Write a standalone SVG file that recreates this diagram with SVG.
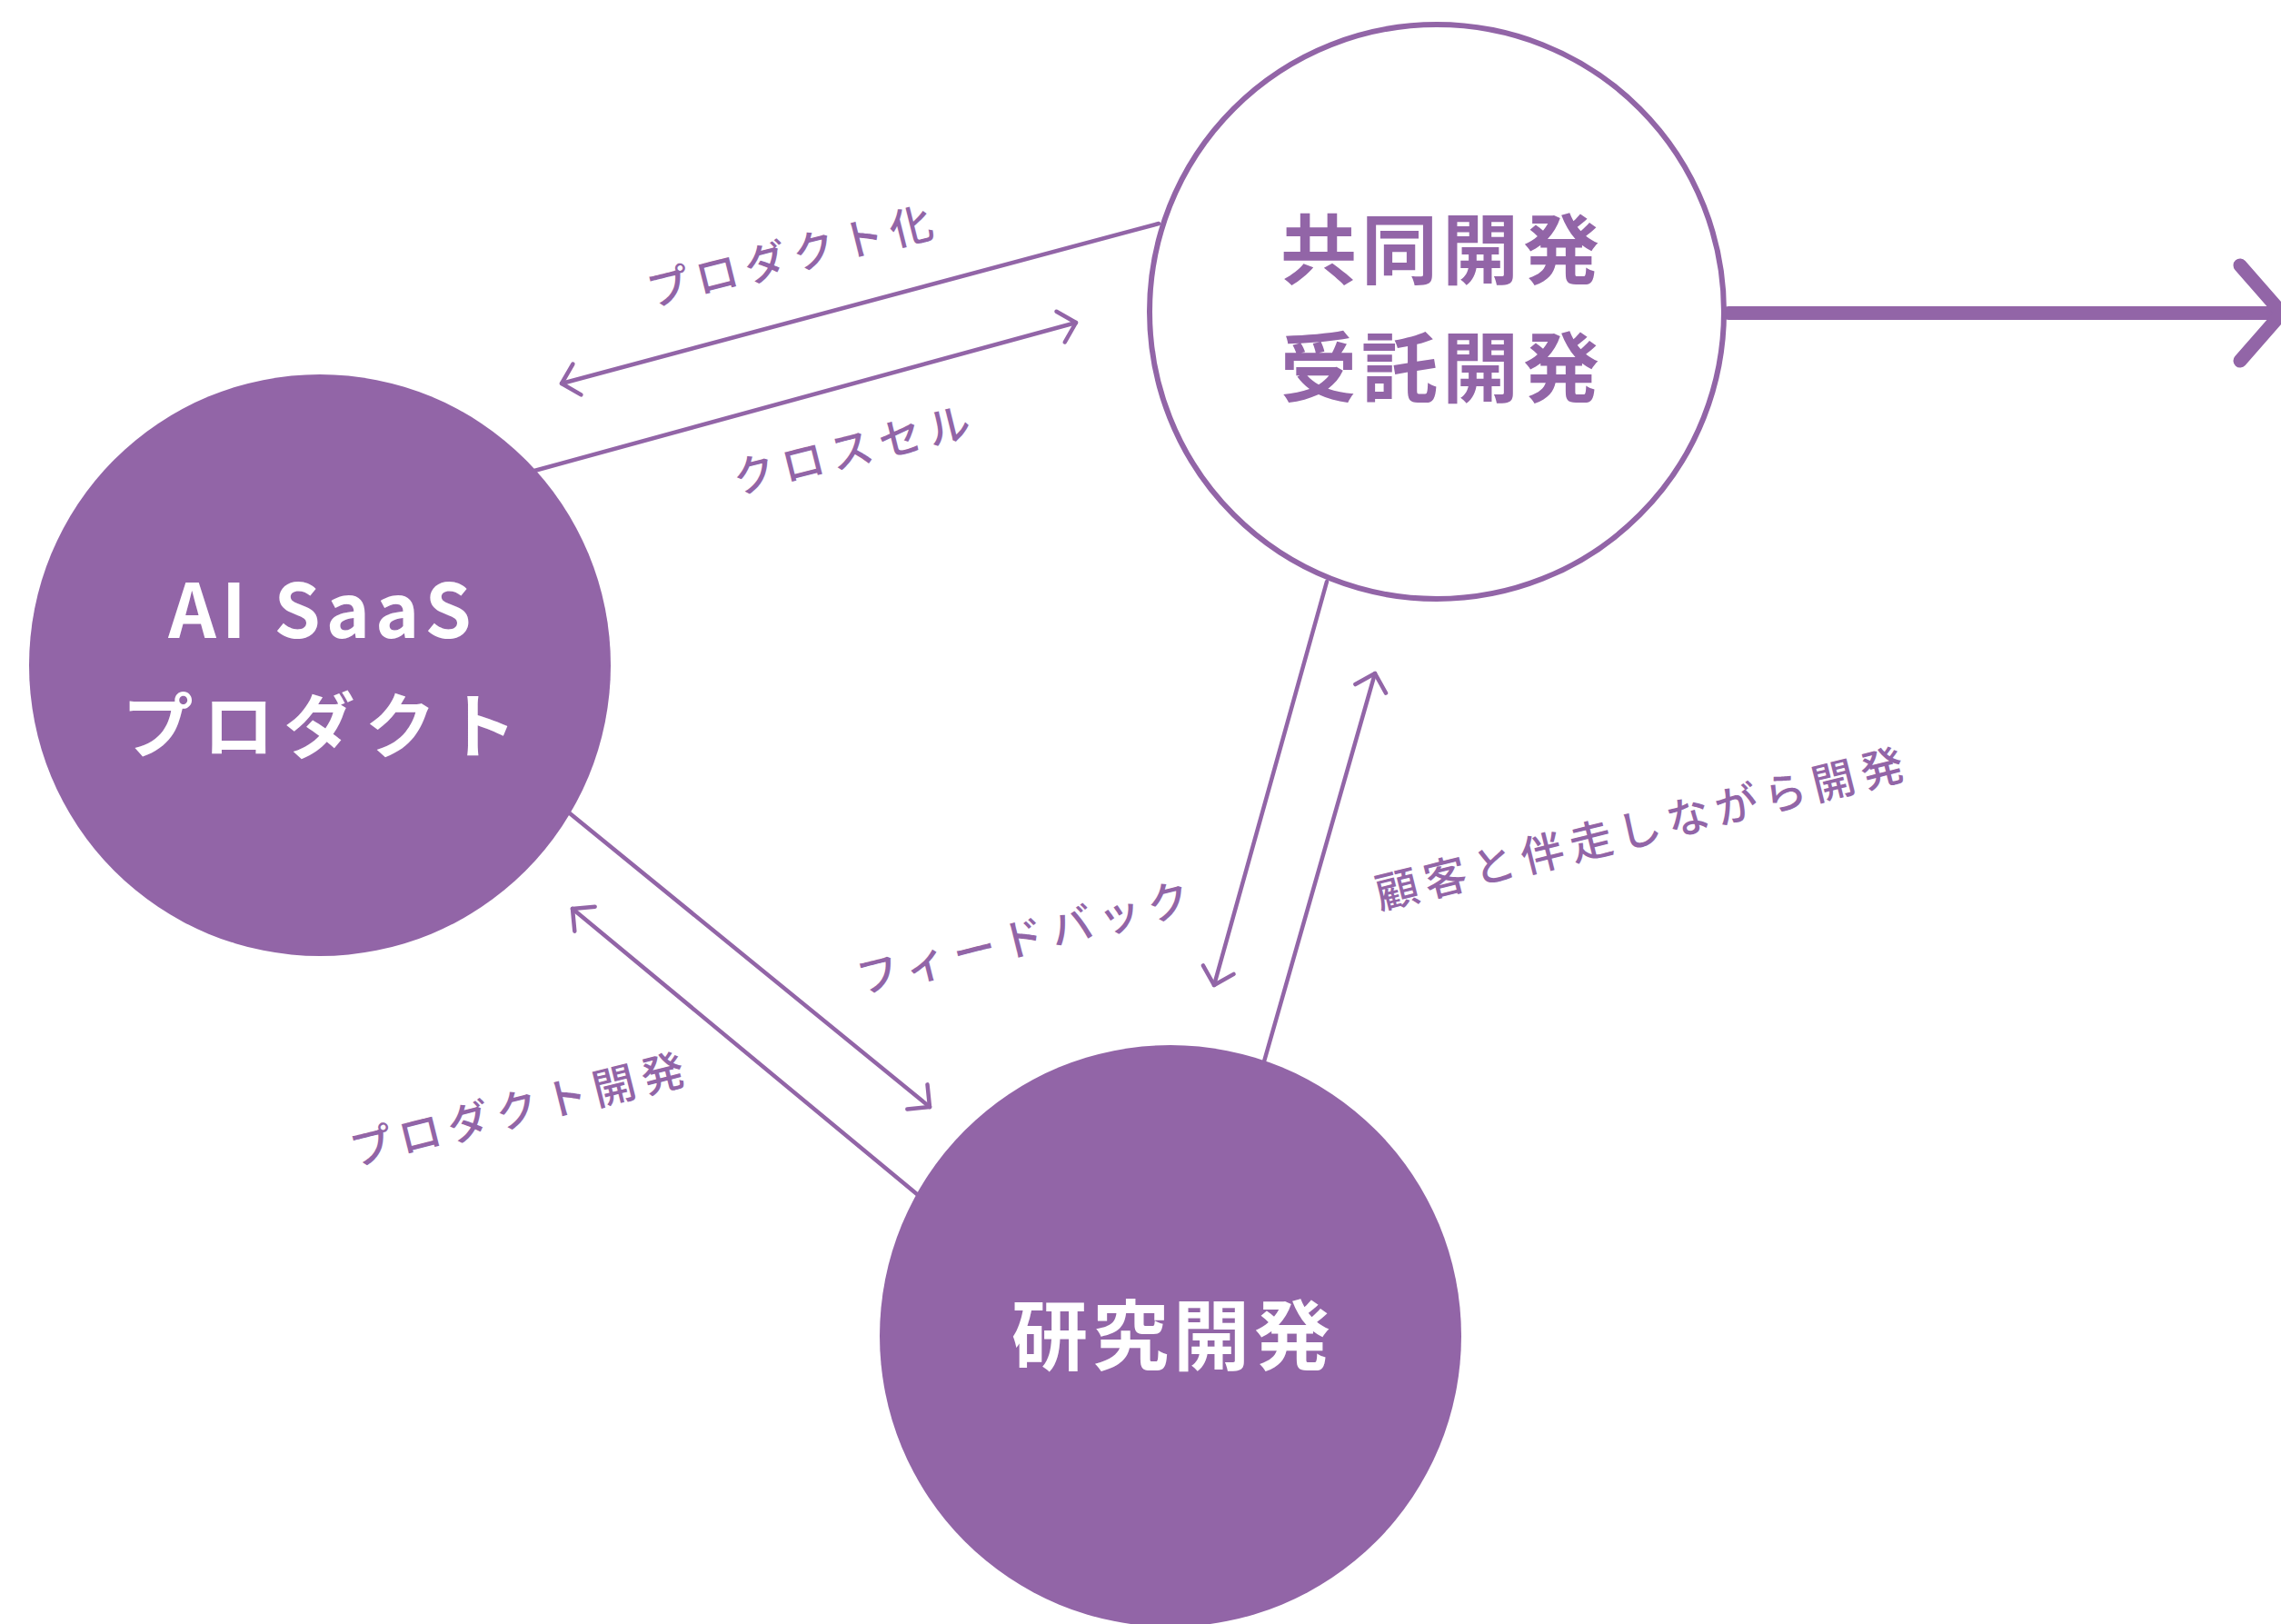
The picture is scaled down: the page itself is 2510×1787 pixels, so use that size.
<svg xmlns="http://www.w3.org/2000/svg" width="2510" height="1787" viewBox="0 0 2510 1787">
  <style>
    .fill { fill: #9265A7; }
    .ring { fill: #FFFFFF; stroke: #9265A7; stroke-width: 6; }
    .conn { stroke: #9265A7; stroke-width: 4.5; fill: none; stroke-linecap: round; }
    .big { stroke: #9265A7; stroke-width: 15; fill: none; stroke-linecap: round; stroke-linejoin: round; }
    .title { font-family: "Noto Sans CJK JP", "Noto Sans", sans-serif; font-weight: 700; text-anchor: middle; }
    .latin { font-family: "Noto Sans CJK JP", "Noto Sans", sans-serif; font-weight: 700; text-anchor: middle; }
    .label { font-family: "Noto Sans CJK JP", "Noto Sans", sans-serif; font-weight: 500; font-size: 47px; letter-spacing: 8px; fill: #9265A7; text-anchor: middle; }
  </style>
  <defs>
    <marker id="arr" markerUnits="userSpaceOnUse" viewBox="-30 -30 60 60" markerWidth="60" markerHeight="60" refX="0" refY="0" orient="auto" overflow="visible">
      <path d="M-17.5,-17.5 L0,0 L-17.5,17.5" fill="none" stroke="#9265A7" stroke-width="4.5" stroke-linecap="round" stroke-linejoin="round"/>
    </marker>
  </defs>
  <rect x="0" y="0" width="2510" height="1787" fill="#FFFFFF"/>

  <g id="connectors">
    <line class="conn" x1="1275" y1="246" x2="618" y2="422" marker-end="url(#arr)"/>
    <line class="conn" x1="588" y1="518" x2="1184" y2="355" marker-end="url(#arr)"/>
    <line class="conn" x1="1460" y1="640" x2="1336" y2="1084" marker-end="url(#arr)"/>
    <line class="conn" x1="1391" y1="1168" x2="1513" y2="741" marker-end="url(#arr)"/>
    <line class="conn" x1="627" y1="895" x2="1023" y2="1218" marker-end="url(#arr)"/>
    <line class="conn" x1="1009" y1="1314" x2="630" y2="1000" marker-end="url(#arr)"/>
    <line class="big" x1="1902" y1="344.5" x2="2508" y2="344.5"/>
    <polyline class="big" points="2465,292 2511,344.5 2465,397"/>
  </g>

  <g id="labels">
    <text class="label" transform="translate(877,298) rotate(-14)">プロダクト化</text>
    <text class="label" transform="translate(945,511) rotate(-14)">クロスセル</text>
    <text class="label" transform="translate(1134,1048) rotate(-14)">フィードバック</text>
    <text class="label" transform="translate(1812,928) rotate(-14)">顧客と伴走しながら開発</text>
    <text class="label" transform="translate(577,1237) rotate(-14)">プロダクト開発</text>
  </g>

  <g id="node-ai-saas">
    <circle class="fill" cx="352" cy="732" r="320"/>
    <text class="latin" x="355" y="702" font-size="82" letter-spacing="6" fill="#FFFFFF">AI SaaS</text>
    <text class="title" x="357" y="828" font-size="78" letter-spacing="11" fill="#FFFFFF">プロダクト</text>
  </g>

  <g id="node-joint">
    <circle class="ring" cx="1581" cy="343" r="316"/>
    <text class="title" x="1587" y="306" font-size="84" letter-spacing="5" fill="#9265A7">共同開発</text>
    <text class="title" x="1587" y="436" font-size="84" letter-spacing="5" fill="#9265A7">受託開発</text>
  </g>

  <g id="node-rnd">
    <circle class="fill" cx="1288" cy="1470" r="320"/>
    <text class="title" x="1291" y="1501" font-size="84" letter-spacing="5" fill="#FFFFFF">研究開発</text>
  </g>
</svg>
